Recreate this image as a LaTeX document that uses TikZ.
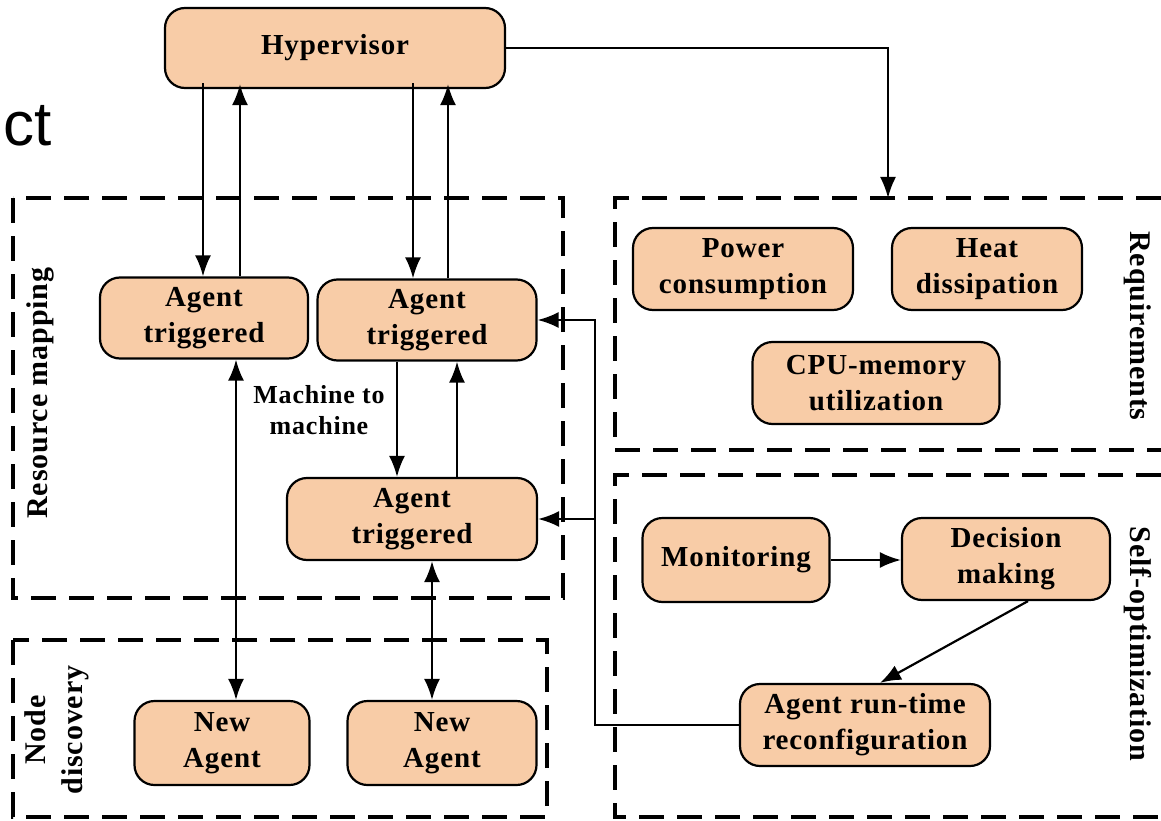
\documentclass[tikz,border=0pt]{standalone}
\usepackage{fontspec}
\setmainfont{Liberation Serif}[LetterSpace=3]
\setsansfont{Liberation Sans}
\usetikzlibrary{arrows.meta}
\definecolor{peach}{RGB}{248,204,167}

\begin{document}
\begin{tikzpicture}[x=1pt,y=-1pt,
    block/.style={draw=black, line width=2.2pt, fill=peach, rounded corners=20pt,
        align=center, inner sep=0pt, font=\fontsize{29}{36}\selectfont\bfseries},
    region/.style={draw=black, line width=3.5pt, dash pattern=on 25pt off 13pt},
    link/.style={line width=2.2pt, -{Latex[length=21pt,width=16pt]}},
    twoway/.style={line width=2.2pt, {Latex[length=21pt,width=16pt]}-{Latex[length=21pt,width=16pt]}},
    tag/.style={font=\fontsize{30}{37}\selectfont\bfseries, align=center, inner sep=0pt}]
    \useasboundingbox (0,0) rectangle (1161,821);

    % dashed regions
    \draw [region] (13,198) rectangle (563,598);
    \draw [region] (13,640) rectangle (547,817);
    \draw [region] (1161,198) -- (615,198) -- (615,450) -- (1161,450);
    \draw [region] (1161,475) -- (615,475) -- (615,817) -- (1161,817);

    \node [tag, rotate=90] (resmap) at (40,393) {Resource mapping};
    \node [tag, rotate=90] (nodedisc) at (57,730) {Node\\discovery};
    \node [tag, rotate=-90] (reqs) at (1138,326) {Requirements};
    \node [tag, rotate=-90] (selfopt) at (1138,644) {Self-optimization};

    \node [font=\sffamily\fontsize{62}{62}\selectfont, anchor=base west, inner sep=0pt] (ct) at (3,146) {ct};

    % boxes
    \node [block, minimum width=340pt, minimum height=80pt] (hyp) at (335,48) {Hypervisor};
    \node [block, minimum width=208pt, minimum height=81pt] (ag1) at (204,318) {Agent\\triggered};
    \node [block, minimum width=219pt, minimum height=81pt] (ag2) at (427,320) {Agent\\triggered};
    \node [block, minimum width=250pt, minimum height=82pt] (ag3) at (412,519) {Agent\\triggered};
    \node [block, minimum width=175pt, minimum height=84pt] (new1) at (222,743) {New\\Agent};
    \node [block, minimum width=189pt, minimum height=84pt] (new2) at (442,743) {New\\Agent};

    \node [block, minimum width=220pt, minimum height=82pt] (power) at (743,269) {Power\\consumption};
    \node [block, minimum width=190pt, minimum height=82pt] (heat) at (987,269) {Heat\\dissipation};
    \node [block, minimum width=247pt, minimum height=82pt] (cpu) at (876,383) {CPU-memory\\utilization};

    \node [block, minimum width=187pt, minimum height=84pt] (monit) at (736,560) {Monitoring};
    \node [block, minimum width=208pt, minimum height=82pt] (decide) at (1006,559) {Decision\\making};
    \node [block, minimum width=250pt, minimum height=82pt] (reconf) at (865,725) {Agent run-time\\reconfiguration};

    \node [tag, font=\fontsize{26}{31}\selectfont\bfseries] (m2m) at (319,410) {Machine to\\machine};

    % lanes for the vertical links
    \coordinate (la) at (203,0);
    \coordinate (lb) at (240,0);
    \coordinate (lc) at (413,0);
    \coordinate (ld) at (448,0);
    \coordinate (le) at (397,0);
    \coordinate (lf) at (457,0);
    \coordinate (lg) at (236,0);
    \coordinate (lh) at (432,0);
    \coordinate (bus) at (595,0);
    \coordinate (reqtop) at (888,198);

    \draw [link] ([yshift=6pt]hyp.south -| la) -- (ag1.north -| la);
    \draw [link] (ag1.north -| lb) -- ([yshift=5pt]hyp.south -| lb);
    \draw [link] ([yshift=6pt]hyp.south -| lc) -- (ag2.north -| lc);
    \draw [link] (ag2.north -| ld) -- ([yshift=5pt]hyp.south -| ld);
    \draw [link] (ag2.south -| le) -- (ag3.north -| le);
    \draw [link] (ag3.north -| lf) -- (ag2.south -| lf);
    \draw [twoway] (ag1.south -| lg) -- (new1.north -| lg);
    \draw [twoway] (ag3.south -| lh) -- (new2.north -| lh);

    \draw [link] (hyp.east) -| (reqtop);
    \draw [link] (monit.east) -- (monit.east -| decide.west);
    \draw [link] ([xshift=22pt]decide.south) -- ([xshift=15pt]reconf.north);
    \draw [link] (reconf.west) -| (bus |- ag2.east) -- (ag2.east);
    \draw [link] (bus |- ag3.east) -- (ag3.east);
\end{tikzpicture}
\end{document}
